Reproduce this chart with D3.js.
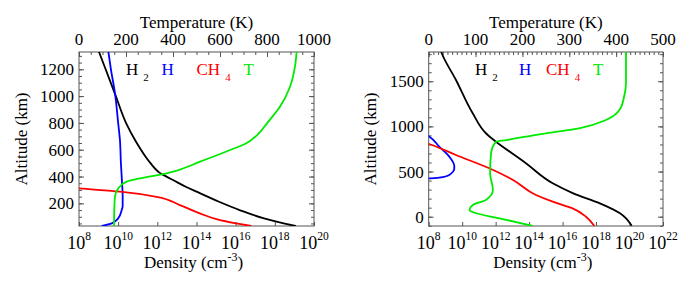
<!DOCTYPE html>
<html>
<head>
<meta charset="utf-8">
<script src="https://cdn.jsdelivr.net/npm/d3@7"></script>
<style>
  body { margin: 0; background: #fff; }
</style>
</head>
<body>
<div id="chart"></div>
<script>
// ---- data: [altitude km, log10 density] / [altitude km, temperature K]
var leftH2 = [[1330, 9.02], [1200, 9.36], [1000, 9.88], [800, 10.4], [672, 10.86], [548, 11.4],
  [500, 11.65], [436, 12.05], [420, 12.2], [405, 12.4], [370, 12.85], [324, 13.45], [287, 14.0],
  [212, 15.15], [150, 16.2], [88, 17.45], [51, 18.45], [31, 19.07]];
var leftH = [[1330, 9.5], [1200, 9.63], [1018, 9.84], [800, 10.0], [673, 10.09], [500, 10.14],
  [350, 10.2], [250, 10.23], [180, 10.23], [150, 10.18], [88, 10.0], [51, 9.67], [31, 9.16]];
var leftCH4 = [[320, 7.4], [312, 8.0], [287, 10.09], [249, 11.96], [187, 13.15], [125, 14.17],
  [75, 15.2], [31, 16.8]];
var leftT = [[1330, 926], [1220, 919], [1070, 898], [920, 855], [797, 800], [732, 770],
  [643, 706], [598, 643], [511, 515], [424, 373], [387, 260], [362, 203], [312, 167],
  [249, 153], [150, 150], [31, 149]];

var rightH2 = [[1830, 8.74], [1810, 8.78], [1514, 9.63], [1145, 10.63], [924, 11.42], [880, 11.68],
  [831, 12.02], [592, 13.81], [370, 15.41], [259, 16.64], [148, 18.23], [38, 19.43], [-100, 20.13]];
var rightH = [[930, 7.6], [886, 8.04], [775, 8.63], [665, 9.23], [560, 9.53], [536, 9.53],
  [462, 9.23], [432, 8.63], [425, 8.04], [410, 7.6]];
var rightCH4 = [[830, 7.6], [805, 8.02], [683, 9.63], [536, 11.62], [407, 13.04], [240, 14.41],
  [166, 15.41], [93, 16.6], [0, 17.4], [-103, 17.9]];
var rightT = [[1830, 421], [1481, 421], [1329, 417], [1182, 407], [1071, 378], [979, 321],
  [924, 250], [868, 185], [848, 165], [831, 144], [702, 133], [481, 131], [296, 137],
  [185, 122], [130, 94], [74, 87], [38, 101], [-18, 151], [-103, 222]];

var leftTempTicks = [0, 200, 400, 600, 800, 1000];
var leftAltTicks = [200, 400, 600, 800, 1000, 1200];
var leftDecades = [8, 10, 12, 14, 16, 18, 20];
var rightTempTicks = [0, 100, 200, 300, 400, 500];
var rightAltTicks = [0, 500, 1000, 1500];
var rightDecades = [8, 10, 12, 14, 16, 18, 20, 22];

var legendItems = [
  { name: "H", sub: "2", color: "#000000" },
  { name: "H", sub: "", color: "#0000ff" },
  { name: "CH", sub: "4", color: "#ff0000" },
  { name: "T", sub: "", color: "#00ea00" }
];

var serif = "'Liberation Serif', 'Times New Roman', Times, 'DejaVu Serif', serif";

var svg = d3.select("#chart").append("svg")
  .attr("width", 692)
  .attr("height", 281)
  .attr("font-family", serif)
  .style("font-family", serif);

var axisColor = "#555";

function drawPanel(cfg, idx) {
  var x = d3.scaleLinear().domain([cfg.decades[0], cfg.decades[cfg.decades.length - 1]])
    .range([cfg.left, cfg.right]);
  var xt = d3.scaleLinear().domain([cfg.tempTicks[0], cfg.tempTicks[cfg.tempTicks.length - 1]])
    .range([cfg.left, cfg.right]);
  var y = d3.scaleLinear().domain(cfg.altDomain).range([cfg.bottom, cfg.top]);

  var g = svg.append("g");

  svg.append("clipPath").attr("id", "clip" + idx)
    .append("rect")
    .attr("x", cfg.left).attr("y", cfg.top)
    .attr("width", cfg.right - cfg.left).attr("height", cfg.bottom - cfg.top);

  // top temperature axis
  var topAxis = d3.axisTop(xt).tickValues(cfg.tempTicks).tickSize(-5).tickFormat("");
  var topMinor = d3.axisTop(xt).tickValues(d3.range(cfg.tempTicks[0], cfg.tempTicks[cfg.tempTicks.length - 1], cfg.tempMinor))
    .tickSize(-3).tickFormat("");
  g.append("g").attr("transform", "translate(0," + cfg.top + ")").call(topMinor);
  g.append("g").attr("transform", "translate(0," + cfg.top + ")").call(topAxis);

  // left / right altitude axes
  var minorAlt = d3.range(Math.ceil(cfg.altDomain[0] / cfg.altMinor) * cfg.altMinor, cfg.altDomain[1], cfg.altMinor);
  [[cfg.left, d3.axisLeft], [cfg.right, d3.axisRight]].forEach(function (s) {
    g.append("g").attr("transform", "translate(" + s[0] + ",0)")
      .call(s[1](y).tickValues(minorAlt).tickSize(-3).tickFormat(""));
    g.append("g").attr("transform", "translate(" + s[0] + ",0)")
      .call(s[1](y).tickValues(cfg.altTicks).tickSize(-5).tickFormat(""));
  });

  // bottom density axis
  g.append("g").attr("transform", "translate(0," + cfg.bottom + ")")
    .call(d3.axisBottom(x).tickValues(cfg.decades).tickSize(-4).tickFormat(""));

  g.selectAll(".domain").remove();
  g.selectAll(".tick line").attr("stroke", axisColor);

  g.append("rect")
    .attr("x", cfg.left).attr("y", cfg.top)
    .attr("width", cfg.right - cfg.left).attr("height", cfg.bottom - cfg.top)
    .attr("fill", "none").attr("stroke", axisColor).attr("stroke-width", 1);

  // tick labels
  g.selectAll(".tt").data(cfg.tempTicks).enter().append("text")
    .attr("x", function (d) { return xt(d); }).attr("y", 45)
    .attr("text-anchor", "middle").attr("font-size", 17)
    .text(function (d) { return d; });

  g.selectAll(".ya").data(cfg.altTicks).enter().append("text")
    .attr("x", cfg.left - 5).attr("y", function (d) { return y(d) + 6; })
    .attr("text-anchor", "end").attr("font-size", 17)
    .text(function (d) { return d; });

  var dl = g.selectAll(".xd").data(cfg.decades).enter().append("text")
    .attr("x", function (d) { return x(d); }).attr("y", 249)
    .attr("text-anchor", "middle").attr("font-size", 18);
  dl.append("tspan").text("10");
  dl.append("tspan").attr("dy", -9).attr("font-size", 11.5).text(function (d) { return d; });

  // axis titles
  g.append("text").attr("x", (cfg.left + cfg.right) / 2).attr("y", 28)
    .attr("text-anchor", "middle").attr("font-size", 17).text("Temperature (K)");

  var dt = g.append("text").attr("x", (cfg.left + cfg.right) / 2 - 3).attr("y", 268)
    .attr("text-anchor", "middle").attr("font-size", 17);
  dt.append("tspan").text("Density (cm");
  dt.append("tspan").attr("dy", -7).attr("font-size", 12).text("-3");
  dt.append("tspan").attr("dy", 7).text(")");

  g.append("text")
    .attr("transform", "translate(" + cfg.ytitleX + "," + ((cfg.top + cfg.bottom) / 2) + ") rotate(-90)")
    .attr("text-anchor", "middle").attr("font-size", 17).text("Altitude (km)");

  // curves: every profile is single-valued in altitude
  var plot = g.append("g").attr("clip-path", "url(#clip" + idx + ")");
  function byAlt(s) { return s.slice().sort(function (a, b) { return a[0] - b[0]; }); }
  var densLine = d3.line().x(function (d) { return x(d[1]); }).y(function (d) { return y(d[0]); })
    .curve(d3.curveMonotoneY);
  var tempLine = d3.line().x(function (d) { return xt(d[1]); }).y(function (d) { return y(d[0]); })
    .curve(d3.curveMonotoneY);

  cfg.dens.forEach(function (s, i) {
    plot.append("path").datum(byAlt(s)).attr("d", densLine)
      .attr("fill", "none").attr("stroke", legendItems[i].color).attr("stroke-width", 1.8);
  });
  plot.append("path").datum(byAlt(cfg.temp)).attr("d", tempLine)
    .attr("fill", "none").attr("stroke", legendItems[3].color).attr("stroke-width", 1.8);

  // legend
  legendItems.forEach(function (it, i) {
    var t = g.append("text").attr("x", cfg.legendX[i]).attr("y", 75)
      .attr("font-size", 17).attr("fill", it.color);
    t.append("tspan").text(it.name);
    if (it.sub) {
      t.append("tspan").attr("dx", 5).attr("dy", 6).attr("font-size", 11).text(it.sub);
    }
  });
}

drawPanel({
  left: 79, right: 314, top: 52, bottom: 226,
  altDomain: [31, 1329], altTicks: leftAltTicks, altMinor: 50,
  tempTicks: leftTempTicks, tempMinor: 50,
  decades: leftDecades,
  dens: [leftH2, leftH, leftCH4], temp: leftT,
  ytitleX: 27,
  legendX: [126, 161.5, 196.5, 243.5]
}, 0);

drawPanel({
  left: 428.7, right: 663, top: 52, bottom: 226,
  altDomain: [-103, 1824], altTicks: rightAltTicks, altMinor: 100,
  tempTicks: rightTempTicks, tempMinor: 10,
  decades: rightDecades,
  dens: [rightH2, rightH, rightCH4], temp: rightT,
  ytitleX: 376,
  legendX: [475, 519, 546, 593]
}, 1);
</script>
</body>
</html>
